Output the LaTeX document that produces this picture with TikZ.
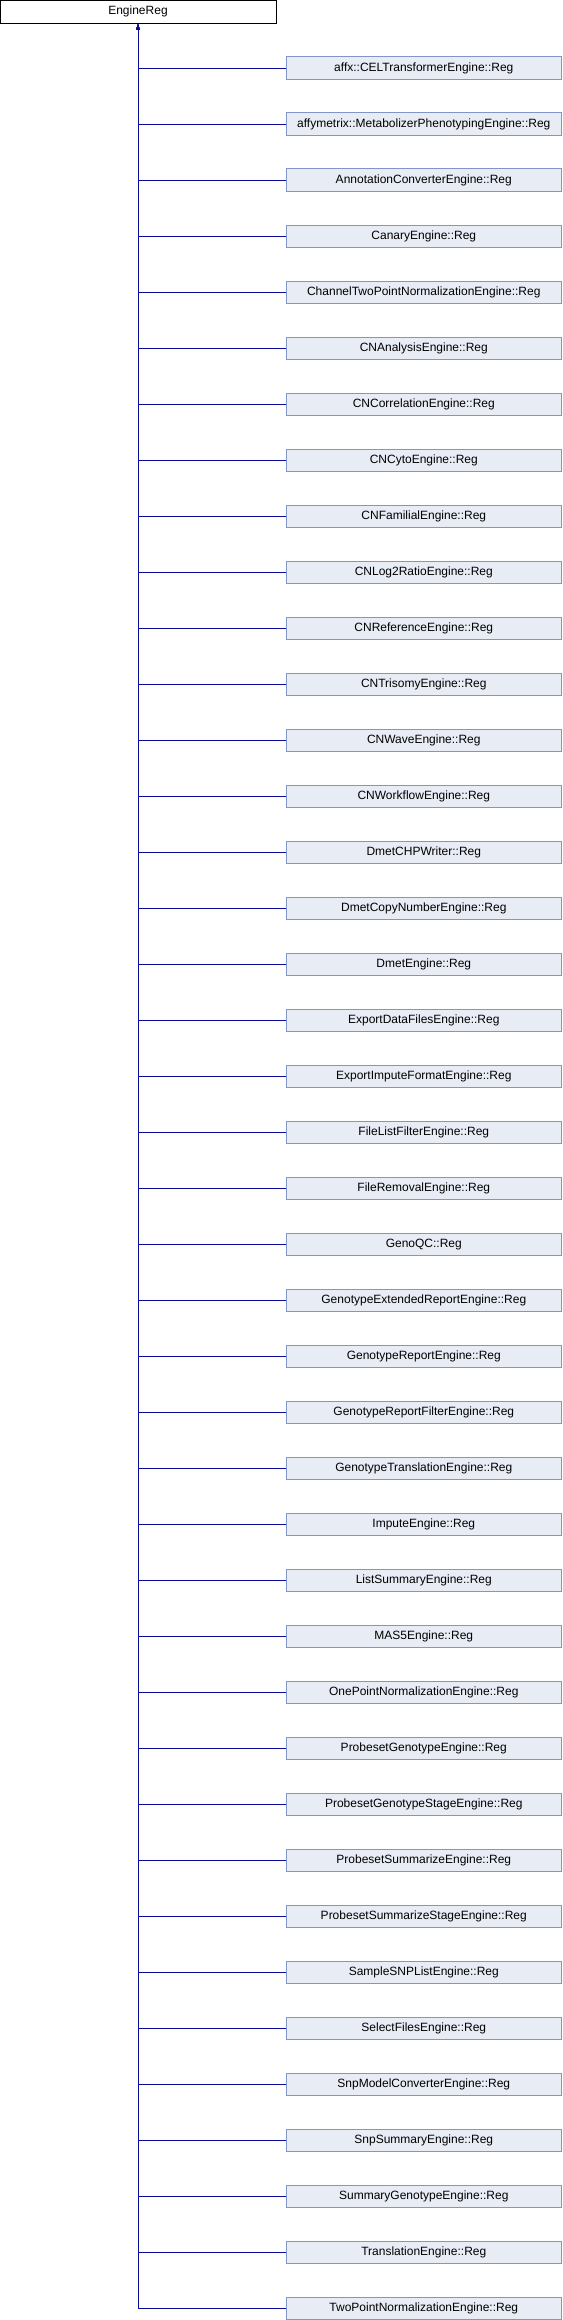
\documentclass[tikz,border=0pt]{standalone}
\usepackage{fontspec}
\setmainfont{Liberation Sans}
\usetikzlibrary{arrows.meta}
\definecolor{edgecol}{RGB}{10,10,150}
\definecolor{boxfill}{RGB}{232,236,245}
\definecolor{boxline}{RGB}{128,150,202}
\tikzset{
  topbox/.style={draw=black, fill=white, line width=1pt, minimum width=276pt, minimum height=23.3pt, inner sep=0pt, font=\fontsize{12}{14}\selectfont},
  childbox/.style={draw=boxline, fill=boxfill, line width=1pt, minimum width=275pt, minimum height=22.6pt, inner sep=0pt, font=\fontsize{12}{14}\selectfont},
  edge/.style={draw=edgecol, line width=1pt, -{Latex[length=6pt,width=4pt]}}
}
\begin{document}
\begin{tikzpicture}[x=1pt,y=-1pt]
\useasboundingbox (0,0) rectangle (562,2320);
\node[topbox] (top) at (138,11.8) {EngineReg};
\foreach \nm [count=\i] in {
affx::CELTransformerEngine::Reg,
affymetrix::MetabolizerPhenotypingEngine::Reg,
AnnotationConverterEngine::Reg,
CanaryEngine::Reg,
ChannelTwoPointNormalizationEngine::Reg,
CNAnalysisEngine::Reg,
CNCorrelationEngine::Reg,
CNCytoEngine::Reg,
CNFamilialEngine::Reg,
CNLog2RatioEngine::Reg,
CNReferenceEngine::Reg,
CNTrisomyEngine::Reg,
CNWaveEngine::Reg,
CNWorkflowEngine::Reg,
DmetCHPWriter::Reg,
DmetCopyNumberEngine::Reg,
DmetEngine::Reg,
ExportDataFilesEngine::Reg,
ExportImputeFormatEngine::Reg,
FileListFilterEngine::Reg,
FileRemovalEngine::Reg,
GenoQC::Reg,
GenotypeExtendedReportEngine::Reg,
GenotypeReportEngine::Reg,
GenotypeReportFilterEngine::Reg,
GenotypeTranslationEngine::Reg,
ImputeEngine::Reg,
ListSummaryEngine::Reg,
MAS5Engine::Reg,
OnePointNormalizationEngine::Reg,
ProbesetGenotypeEngine::Reg,
ProbesetGenotypeStageEngine::Reg,
ProbesetSummarizeEngine::Reg,
ProbesetSummarizeStageEngine::Reg,
SampleSNPListEngine::Reg,
SelectFilesEngine::Reg,
SnpModelConverterEngine::Reg,
SnpSummaryEngine::Reg,
SummaryGenotypeEngine::Reg,
TranslationEngine::Reg,
TwoPointNormalizationEngine::Reg}
{
  \node[childbox] (c\i) at (423.8,{68.3+56*(\i-1)}) {\nm};
  \draw[edge] (c\i.west) -| (top.south);
}
\end{tikzpicture}
\end{document}
